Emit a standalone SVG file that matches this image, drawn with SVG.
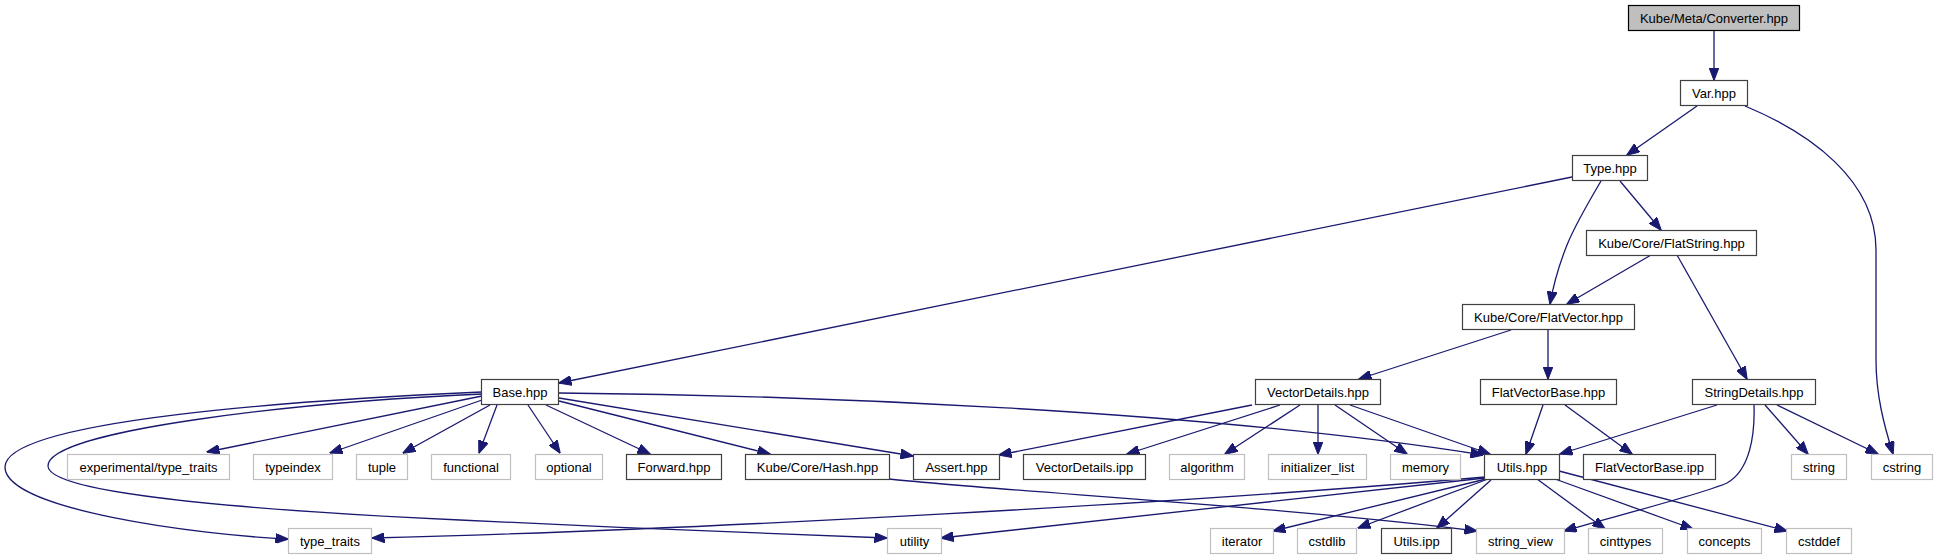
<svg xmlns="http://www.w3.org/2000/svg" width="1938" height="560" viewBox="0 0 1938 560">
<defs>
<marker id="ah" viewBox="0 0 13 10" refX="12.5" refY="5" markerWidth="13" markerHeight="10" orient="auto" markerUnits="userSpaceOnUse">
<path d="M0,0 L13,5 L0,10 z" fill="#191970" stroke="#191970" stroke-width="1"/>
</marker>
<style>
.n rect{fill:#fff;stroke:#404040;stroke-width:1.2}
.s rect{fill:#fff;stroke:#bfbfbf;stroke-width:1.2}
.r rect{fill:#bfbfbf;stroke:#000;stroke-width:1.2}
text{font-family:"Liberation Sans",Arial,sans-serif;font-size:13px;fill:#000;text-anchor:middle}
#edges path{fill:none;stroke:#191970;stroke-width:1.3;marker-end:url(#ah)}
</style>
</defs>
<rect width="1938" height="560" fill="#fff"/>
<g id="edges">
<path d="M1714,31 L1714,80"/>
<path d="M1697,106 L1627,155"/>
<path d="M1745,106 C1810,133 1876,180 1876,250 L1876,360 C1876,395 1884,425 1893,454"/>
<path d="M1572,177 L559,383"/>
<path d="M1601,181 C1588,203 1575,225 1567,245 C1559,265 1553,287 1550,304"/>
<path d="M1620,181 L1661,230"/>
<path d="M1651,255 L1567,304"/>
<path d="M1677,255 L1747,379"/>
<path d="M1511,330 L1359,379"/>
<path d="M1548,330 L1548,379"/>
<path d="M1252,405 L999,455"/>
<path d="M1280,405 L1127,454"/>
<path d="M1300,405 L1225,454"/>
<path d="M1318,405 L1318,454"/>
<path d="M1335,405 L1407,454"/>
<path d="M1350,405 L1490,454"/>
<path d="M1543,405 L1526,454"/>
<path d="M1565,405 L1632,454"/>
<path d="M1717,405 L1560,454"/>
<path d="M1754,405 C1755,435 1750,470 1727,483 C1700,495 1600,520 1564,531"/>
<path d="M1765,405 L1808,454"/>
<path d="M1777,405 L1878,454"/>
<path d="M889,479 C1000,491 1300,508 1477,531"/>
<path d="M1491,480 L1437,528"/>
<path d="M1488,479 L1358,528"/>
<path d="M1486,479 L1273,531"/>
<path d="M1485,478 L941,538"/>
<path d="M1485,477 C1200,502 700,530 372,538"/>
<path d="M1537,479 L1605,529"/>
<path d="M1555,479 L1693,529"/>
<path d="M1559,471 L1787,531"/>
<path d="M482,396 L207,452"/>
<path d="M482,400 L330,453"/>
<path d="M490,405 L403,453"/>
<path d="M497,405 L479,453"/>
<path d="M528,405 L560,453"/>
<path d="M546,405 L650,454"/>
<path d="M559,401 L770,454"/>
<path d="M559,398 L913,456"/>
<path d="M559,393 C800,395 1200,410 1483,455"/>
<path d="M482,392 C300,400 5,420 5,467 C5,510 200,535 288,539"/>
<path d="M482,394 C300,402 48,430 48,466 C48,490 200,508 460,520 C600,527 800,535 887,538"/>
</g>
<g id="n_converter" class="r"><rect x="1628.5" y="5.5" width="171" height="25"/><text x="1714" y="23">Kube/Meta/Converter.hpp</text></g>
<g id="n_var" class="n"><rect x="1680.5" y="80.5" width="67" height="25"/><text x="1714" y="98">Var.hpp</text></g>
<g id="n_type" class="n"><rect x="1572.5" y="155.5" width="75" height="25"/><text x="1610" y="173">Type.hpp</text></g>
<g id="n_flatstring" class="n"><rect x="1586.5" y="230.5" width="170" height="25"/><text x="1671.5" y="248">Kube/Core/FlatString.hpp</text></g>
<g id="n_flatvector" class="n"><rect x="1462.5" y="304.5" width="172" height="25"/><text x="1548.5" y="322">Kube/Core/FlatVector.hpp</text></g>
<g id="n_base" class="n"><rect x="481.5" y="379.5" width="77" height="25"/><text x="520" y="397">Base.hpp</text></g>
<g id="n_vectordetails" class="n"><rect x="1255.5" y="379.5" width="125" height="25"/><text x="1318" y="397">VectorDetails.hpp</text></g>
<g id="n_flatvectorbase" class="n"><rect x="1480.5" y="379.5" width="136" height="25"/><text x="1548.5" y="397">FlatVectorBase.hpp</text></g>
<g id="n_stringdetails" class="n"><rect x="1692.5" y="379.5" width="123" height="25"/><text x="1754" y="397">StringDetails.hpp</text></g>
<g id="n_exptt" class="s"><rect x="67.5" y="454.5" width="162" height="25"/><text x="148.5" y="472">experimental/type_traits</text></g>
<g id="n_typeindex" class="s"><rect x="253.5" y="454.5" width="79" height="25"/><text x="293" y="472">typeindex</text></g>
<g id="n_tuple" class="s"><rect x="356.5" y="454.5" width="51" height="25"/><text x="382" y="472">tuple</text></g>
<g id="n_functional" class="s"><rect x="431.5" y="454.5" width="79" height="25"/><text x="471" y="472">functional</text></g>
<g id="n_optional" class="s"><rect x="535.5" y="454.5" width="67" height="25"/><text x="569" y="472">optional</text></g>
<g id="n_forward" class="n"><rect x="626.5" y="454.5" width="95" height="25"/><text x="674" y="472">Forward.hpp</text></g>
<g id="n_hash" class="n"><rect x="745.5" y="454.5" width="144" height="25"/><text x="817.5" y="472">Kube/Core/Hash.hpp</text></g>
<g id="n_assert" class="n"><rect x="913.5" y="454.5" width="86" height="25"/><text x="956.5" y="472">Assert.hpp</text></g>
<g id="n_vdipp" class="n"><rect x="1023.5" y="454.5" width="122" height="25"/><text x="1084.5" y="472">VectorDetails.ipp</text></g>
<g id="n_algorithm" class="s"><rect x="1169.5" y="454.5" width="75" height="25"/><text x="1207" y="472">algorithm</text></g>
<g id="n_initlist" class="s"><rect x="1268.5" y="454.5" width="98" height="25"/><text x="1317.5" y="472">initializer_list</text></g>
<g id="n_memory" class="s"><rect x="1390.5" y="454.5" width="70" height="25"/><text x="1425.5" y="472">memory</text></g>
<g id="n_utils" class="n"><rect x="1484.5" y="454.5" width="75" height="25"/><text x="1522" y="472">Utils.hpp</text></g>
<g id="n_fvbipp" class="n"><rect x="1583.5" y="454.5" width="132" height="25"/><text x="1649.5" y="472">FlatVectorBase.ipp</text></g>
<g id="n_string" class="s"><rect x="1791.5" y="454.5" width="55" height="25"/><text x="1819" y="472">string</text></g>
<g id="n_cstring" class="s"><rect x="1871.5" y="454.5" width="61" height="25"/><text x="1902" y="472">cstring</text></g>
<g id="n_typetraits" class="s"><rect x="288.5" y="528.5" width="83" height="25"/><text x="330" y="546">type_traits</text></g>
<g id="n_utility" class="s"><rect x="887.5" y="528.5" width="54" height="25"/><text x="914.5" y="546">utility</text></g>
<g id="n_iterator" class="s"><rect x="1210.5" y="528.5" width="63" height="25"/><text x="1242" y="546">iterator</text></g>
<g id="n_cstdlib" class="s"><rect x="1297.5" y="528.5" width="59" height="25"/><text x="1327" y="546">cstdlib</text></g>
<g id="n_utilsipp" class="n"><rect x="1381.5" y="528.5" width="70" height="25"/><text x="1416.5" y="546">Utils.ipp</text></g>
<g id="n_stringview" class="s"><rect x="1476.5" y="528.5" width="88" height="25"/><text x="1520.5" y="546">string_view</text></g>
<g id="n_cinttypes" class="s"><rect x="1588.5" y="528.5" width="74" height="25"/><text x="1625.5" y="546">cinttypes</text></g>
<g id="n_concepts" class="s"><rect x="1687.5" y="528.5" width="74" height="25"/><text x="1724.5" y="546">concepts</text></g>
<g id="n_cstddef" class="s"><rect x="1786.5" y="528.5" width="65" height="25"/><text x="1819" y="546">cstddef</text></g>
</svg>
